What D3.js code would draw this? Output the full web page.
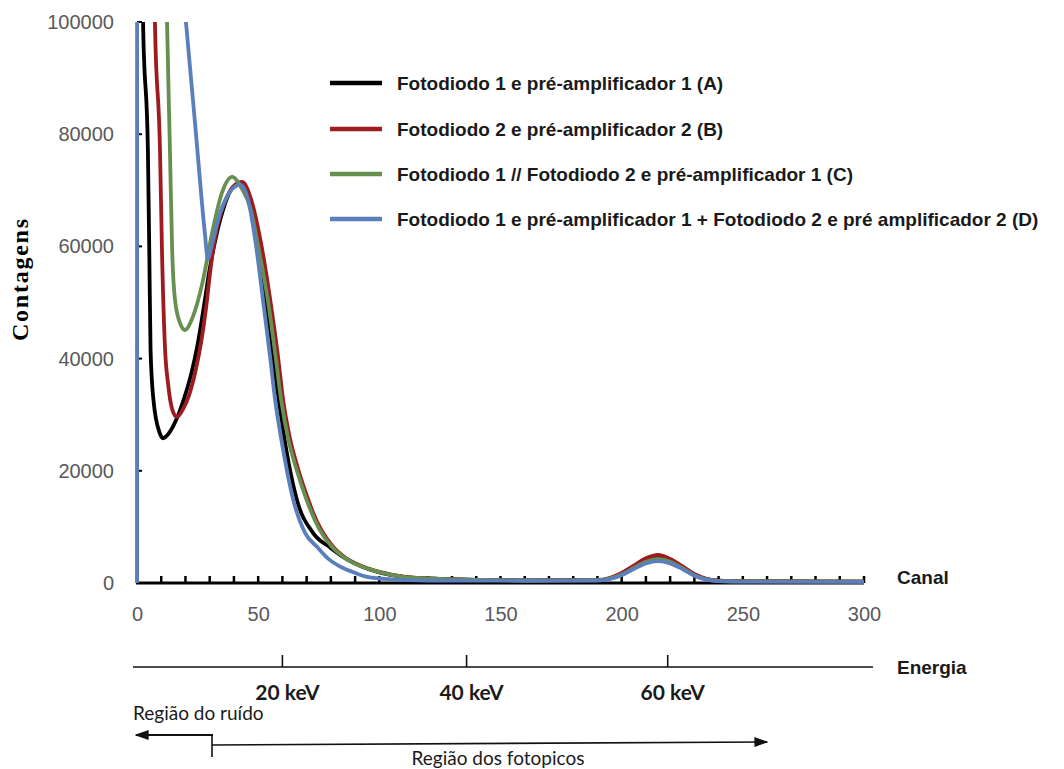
<!DOCTYPE html>
<html>
<head>
<meta charset="utf-8">
<script src="https://cdn.jsdelivr.net/npm/d3@7"></script>
<style>
  html, body { margin: 0; padding: 0; background: #ffffff; }
  svg { display: block; }
</style>
</head>
<body>
<svg id="chart" width="1064" height="769"></svg>
<script>
// ---------- data ----------
const seriesNames = [
  "Fotodiodo 1 e pré-amplificador 1 (A)",
  "Fotodiodo 2 e pré-amplificador 2 (B)",
  "Fotodiodo 1 // Fotodiodo 2 e pré-amplificador 1 (C)",
  "Fotodiodo 1 e pré-amplificador 1 + Fotodiodo 2 e pré amplificador 2 (D)"
];
const seriesColors = ["#000000", "#9d1c20", "#678f4f", "#5a7fba"];

// [canal, contagens]
const seriesA = [[0,500000],[2.5,100000],[4.5,77000],[5.1,58000],[5.6,41500],[6.8,32600],[9.3,26800],[10.7,25800],[13,26600],[16.5,29400],[19.5,33000],[22.5,37500],[25,42500],[27.5,49000],[30,56000],[32.5,61500],[35.5,66500],[39,70200],[43,71300],[47,67000],[50,60000],[53,50400],[56,40000],[58.5,32600],[61.5,24000],[66,14800],[72.7,8900],[79.8,6300],[86,4400],[93,2900],[100,1900],[110,1100],[120,800],[140,550],[160,450],[190,500],[195,800],[200,1600],[205,2900],[210,4100],[215,4600],[220,4000],[225,2800],[230,1500],[235,700],[240,400],[250,300],[300,250]];
const seriesB = [[0,600000],[7.4,100000],[9.5,77000],[10.3,59400],[11.6,41500],[12.8,35600],[14.5,31000],[16.5,29600],[19,31000],[21.5,33500],[24,37500],[26.5,43000],[28.5,49000],[30.2,55500],[32,61000],[34,65000],[37,68700],[40,70800],[43.4,71500],[47,68500],[51,61000],[55,50400],[58,41000],[60.3,32600],[63,26000],[66,21000],[70.7,14800],[72.7,12500],[76,9500],[81,6400],[86,4500],[93.4,2900],[100,2000],[110,1150],[120,800],[140,550],[160,480],[190,550],[195,900],[200,1800],[205,3100],[210,4400],[215,5000],[220,4300],[225,3000],[230,1600],[235,750],[240,420],[250,320],[300,260]];
const seriesC = [[0,800000],[12.4,100000],[13.6,77000],[14.5,59400],[15.7,50400],[17.8,46300],[19.8,45100],[23,47400],[27,53500],[31,62400],[35,69500],[39.3,72400],[43,70500],[47,66500],[50,60000],[54,50400],[57,41000],[59.5,32600],[62.5,25500],[66,20000],[70,14800],[75,9800],[80.5,6400],[86,4400],[93,2900],[100,1950],[110,1100],[120,800],[140,550],[160,450],[190,500],[195,800],[200,1500],[205,2700],[210,3800],[215,4300],[220,3800],[225,2700],[230,1400],[235,650],[240,380],[250,300],[300,240]];
const seriesD = [[0,0],[0.7,2000000],[8,158800],[14,129900],[20.2,100000],[24,81700],[28,62400],[29.2,57800],[31,60500],[34,65500],[38,69500],[42.6,71000],[46,68000],[49,60500],[52,50400],[55,40000],[57,32600],[60,24500],[64.5,14800],[69.4,8900],[74.4,6400],[79,4300],[84,2900],[90,1800],[95,1100],[105,650],[120,450],[160,400],[190,450],[195,700],[200,1400],[205,2500],[210,3500],[215,3900],[220,3500],[225,2500],[230,1300],[235,600],[240,350],[250,250],[300,200]];
const allSeries = [seriesA, seriesB, seriesC, seriesD];

const xTickLabels = [0, 50, 100, 150, 200, 250, 300];
const xMinorTicks = d3.range(0, 301, 10);
const yTickLabels = [0, 20000, 40000, 60000, 80000, 100000];
const energyChannels = [60, 136, 219];
const energyLabels = ["20 keV", "40 keV", "60 keV"];

// ---------- layout ----------
const svg = d3.select("#chart");
const x = d3.scaleLinear().domain([0, 300]).range([137, 864]);
const y = d3.scaleLinear().domain([0, 100000]).range([583, 22]);

// y axis
const yAxis = d3.axisLeft(y).tickValues(yTickLabels).tickSize(0).tickPadding(23)
  .tickFormat(d3.format("d"));
const gy = svg.append("g").attr("transform", `translate(${x(0)},0)`).call(yAxis);
gy.select(".domain").attr("stroke", "#000").attr("stroke-width", 2.5);
gy.selectAll("text").attr("fill", "#595959").style("font-family", "'Liberation Sans', Arial, sans-serif").style("font-size", "20px");
svg.append("g").selectAll("line").data(yTickLabels).join("line")
  .attr("x1", x(0)).attr("x2", x(0) + 5).attr("y1", d => y(d)).attr("y2", d => y(d))
  .attr("stroke", "#000").attr("stroke-width", 2);

// x axis labels
const xAxis = d3.axisBottom(x).tickValues(xTickLabels).tickSize(0).tickPadding(24);
const gx = svg.append("g").attr("transform", `translate(0,${y(0)})`).call(xAxis);
gx.select(".domain").remove();
gx.selectAll("text").attr("fill", "#595959").style("font-family", "'Liberation Sans', Arial, sans-serif").style("font-size", "20px");

// x axis line + minor ticks
svg.append("line").attr("x1", x(0) - 1).attr("x2", x(300)).attr("y1", y(0)).attr("y2", y(0))
  .attr("stroke", "#000").attr("stroke-width", 3);
svg.append("g").selectAll("line").data(xMinorTicks).join("line")
  .attr("x1", d => x(d)).attr("x2", d => x(d)).attr("y1", y(0)).attr("y2", y(0) - 7)
  .attr("stroke", "#000").attr("stroke-width", 2.5);

// curves
svg.append("clipPath").attr("id", "plotclip").append("rect")
  .attr("x", x(0) - 3).attr("y", y(100000)).attr("width", x(300) - x(0) + 6).attr("height", y(0) - y(100000) + 4);
const line = d3.line().x(d => x(d[0])).y(d => y(d[1])).curve(d3.curveMonotoneX);
const gCurves = svg.append("g").attr("clip-path", "url(#plotclip)");
allSeries.forEach((s, i) => {
  gCurves.append("path").datum(s).attr("d", line)
    .attr("fill", "none").attr("stroke", seriesColors[i]).attr("stroke-width", 3.8)
    .attr("stroke-linejoin", "round");
});

// y title
svg.append("text").attr("transform", "translate(28,280) rotate(-90)")
  .attr("text-anchor", "middle")
  .style("font-family", "'Liberation Serif', 'Times New Roman', serif").style("font-weight", "bold").style("font-size", "24px")
  .attr("textLength", 122).attr("lengthAdjust", "spacing")
  .text("Contagens");

// legend
const legendY = [83, 129, 174, 219];
const lg = svg.append("g");
seriesNames.forEach((n, i) => {
  lg.append("line").attr("x1", 330).attr("x2", 382).attr("y1", legendY[i]).attr("y2", legendY[i])
    .attr("stroke", seriesColors[i]).attr("stroke-width", 4.5);
  lg.append("text").attr("x", 397).attr("y", legendY[i] + 7)
    .style("font-family", "'Liberation Sans', Arial, sans-serif").style("font-weight", "bold").style("font-size", "19px")
    .attr("fill", "#1a1a1a").text(n);
});

// Canal label
svg.append("text").attr("x", 897).attr("y", 584)
  .style("font-family", "'Liberation Sans', Arial, sans-serif").style("font-weight", "bold").style("font-size", "19px")
  .attr("fill", "#1a1a1a").text("Canal");

// Energy axis
const eY = 667;
svg.append("line").attr("x1", 133).attr("x2", 873).attr("y1", eY).attr("y2", eY)
  .attr("stroke", "#111").attr("stroke-width", 1.6);
svg.append("g").selectAll("line").data(energyChannels).join("line")
  .attr("x1", d => x(d)).attr("x2", d => x(d)).attr("y1", eY).attr("y2", eY - 12)
  .attr("stroke", "#111").attr("stroke-width", 1.6);
svg.append("g").selectAll("text").data(energyChannels).join("text")
  .attr("x", d => x(d) + 5).attr("y", 700).attr("text-anchor", "middle")
  .style("font-family", "Lato, 'Liberation Sans', sans-serif").style("font-weight", "bold").style("font-size", "21px")
  .attr("fill", "#1a1a1a").text((d, i) => energyLabels[i]);
svg.append("text").attr("x", 897).attr("y", 674)
  .style("font-family", "'Liberation Sans', Arial, sans-serif").style("font-weight", "bold").style("font-size", "19px")
  .attr("fill", "#1a1a1a").text("Energia");

// Region annotations
const defs = svg.append("defs");
defs.append("marker").attr("id", "arrow").attr("viewBox", "0 0 10 10")
  .attr("refX", 9).attr("refY", 5).attr("markerWidth", 14).attr("markerHeight", 10)
  .attr("markerUnits", "userSpaceOnUse").attr("orient", "auto")
  .attr("preserveAspectRatio", "none")
  .append("path").attr("d", "M0,0 L10,5 L0,10 Z").attr("fill", "#111");

svg.append("text").attr("x", 133).attr("y", 720)
  .style("font-family", "Lato, 'Open Sans', sans-serif").style("font-size", "19px")
  .attr("fill", "#1a1a1a").text("Região do ruído");
svg.append("line").attr("x1", 213).attr("x2", 136).attr("y1", 735).attr("y2", 735)
  .attr("stroke", "#111").attr("stroke-width", 1.8).attr("marker-end", "url(#arrow)");

svg.append("line").attr("x1", 212).attr("x2", 212).attr("y1", 736).attr("y2", 757)
  .attr("stroke", "#111").attr("stroke-width", 1.6);
svg.append("line").attr("x1", 212).attr("x2", 767).attr("y1", 745).attr("y2", 742)
  .attr("stroke", "#111").attr("stroke-width", 1.6).attr("marker-end", "url(#arrow)");
svg.append("text").attr("x", 498).attr("y", 765).attr("text-anchor", "middle")
  .style("font-family", "Lato, 'Open Sans', sans-serif").style("font-size", "19px")
  .attr("fill", "#1a1a1a").text("Região dos fotopicos");
</script>
</body>
</html>
